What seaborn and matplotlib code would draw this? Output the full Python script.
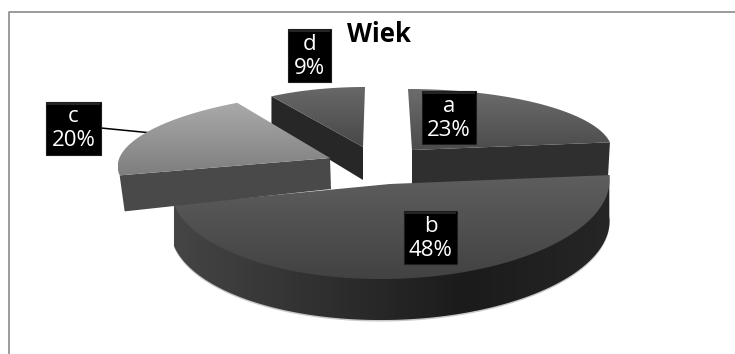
import numpy as np
import matplotlib
matplotlib.use("Agg")
import matplotlib.pyplot as plt
from matplotlib.colors import LinearSegmentedColormap
from matplotlib.patches import Polygon, Rectangle
import seaborn as sns

# Age groups and their shares in percent
categories = ["a", "b", "c", "d"]
shares = [23, 48, 20, 9]
chart_title = "Wiek"

# Projection of each exploded slice: apex, radii, shear
projection = {
    "a": dict(apex=(412, 150), rx=200, ry=61, sx=-4, sy=0),
    "b": dict(apex=(390, 184), rx=219, ry=95, sx=16, sy=3),
    "c": dict(apex=(330, 158), rx=211, ry=66, sx=24, sy=-1),
    "d": dict(apex=(363, 147), rx=174, ry=60, sx=2, sy=0),
}
# Top-face gradient (far, near) and wall shade
top_shades = {"a": ("#6c6c6c", "#4c4c4c"), "b": ("#5e5e5e", "#424242"),
              "c": ("#aaaaaa", "#7e7e7e"), "d": ("#686868", "#484848")}
wall_shades = {"a": "#2f2f2f", "c": "#494949", "d": "#272727"}
# Wall offsets at the rim and at the apex of the cut face
wall_offsets = {"a": ((-2, 36), (0, 36)), "c": ((5, 36), (1, 31)), "d": ((0, 28), (0, 33))}
label_boxes = {"a": (422, 91), "b": (404, 211), "c": (46, 102), "d": (288, 29)}
box_widths = {"a": 54, "b": 53, "c": 55, "d": 43}
box_height = 53

sns.set_theme(style="white")
plt.rcParams["font.family"] = ["Open Sans", "DejaVu Sans"]

fig = plt.figure(figsize=(7.35, 3.54), dpi=100)
ax = fig.add_axes([0, 0, 1, 1])
ax.set_axis_off()


def project(name, t):
    p = projection[name]
    x = p["apex"][0] + p["rx"] * np.sin(t) + p["sx"] * np.cos(t)
    y = p["apex"][1] - p["ry"] * np.cos(t) + p["sy"] * np.sin(t)
    return np.column_stack([x, y])


def gradient_fill(points, colors, vertical=True, zorder=2):
    """Fill a polygon with a linear gradient clipped to its outline."""
    outline = Polygon(points, closed=True, fc="none", ec="none", zorder=zorder)
    ax.add_patch(outline)
    cmap = LinearSegmentedColormap.from_list("shade", colors)
    ramp = np.linspace(0, 1, 256)
    ramp = ramp[:, None] if vertical else ramp[None, :]
    x0, y0 = points.min(axis=0)
    x1, y1 = points.max(axis=0)
    img = ax.imshow(ramp, extent=(x0, x1, y1, y0), cmap=cmap, aspect="auto",
                    origin="upper", vmin=0, vmax=1, zorder=zorder,
                    interpolation="bilinear")
    img.set_clip_path(outline)


edges = np.deg2rad(np.concatenate([[0], np.cumsum(shares) * 3.6]))
arcs = {c: project(c, np.linspace(edges[i], edges[i + 1], 120)) for i, c in enumerate(categories)}
apexes = {c: np.array(projection[c]["apex"], dtype=float) for c in categories}

# Slice d, then a, then the large slice b, with c on top
layer = {"d": 2, "a": 3, "b": 4, "c": 5}

for name, rim_index in (("d", 0), ("a", -1), ("c", 0)):
    rim = arcs[name][rim_index]
    rim_off, apex_off = wall_offsets[name]
    wall = np.array([rim, apexes[name], apexes[name] + apex_off, rim + rim_off])
    ax.add_patch(Polygon(wall, closed=True, fc=wall_shades[name], ec="none",
                         zorder=layer[name]))

# Outer wall of the large slice, tucked slightly under its top face
lower = arcs["b"] + (0, 41)
inner = arcs["b"] * 0.96 + apexes["b"] * 0.04
side = np.vstack([arcs["b"][:1], inner, arcs["b"][-1:], lower[::-1]])
ax.add_patch(Polygon(side + (0, 1.5), closed=True, fc="#c8c8c8", ec="none", zorder=3.5))
gradient_fill(side, ["#454545", "#303030", "#1b1b1b", "#262626"], vertical=False, zorder=layer["b"])

for name in categories:
    face = np.vstack([apexes[name], arcs[name]])
    gradient_fill(face, list(top_shades[name]), zorder=layer[name] + 0.1)

# Leader line of the c label
ax.plot([101, 152], [128, 133], color="black", lw=1.1, zorder=4.5)

# Value labels in black boxes
for name, share in zip(categories, shares):
    x0, y0 = label_boxes[name]
    w = box_widths[name]
    ax.add_patch(Rectangle((x0 + 1, y0 + 1), w, box_height, fc="#c4c4c4", ec="none", zorder=7))
    ax.add_patch(Rectangle((x0, y0), w, box_height, fc="black", ec="#1e1e1e", lw=0.8, zorder=8))
    ax.add_patch(Rectangle((x0 + 1, y0 + 1), w - 2, 2, fc="#242424", ec="none", zorder=8.1))
    ax.text(x0 + w / 2, y0 + 15, name, color="white", fontsize=16, ha="center",
            va="center", zorder=9)
    ax.text(x0 + w / 2, y0 + 39, f"{share}%", color="white", fontsize=16, ha="center",
            va="center", zorder=9)

ax.text(379.5, 35, chart_title, color="black", fontsize=18.5, fontweight="bold",
        ha="center", va="center", zorder=9)

# Chart area border, open to the right and below
ax.plot([9.5, 9.5, 735], [354, 11.5, 11.5], color="#8a8a8a", lw=1.2, zorder=1)

ax.set_xlim(0, 735)
ax.set_ylim(354, 0)
fig.savefig("out.png", dpi=100, facecolor="white")
